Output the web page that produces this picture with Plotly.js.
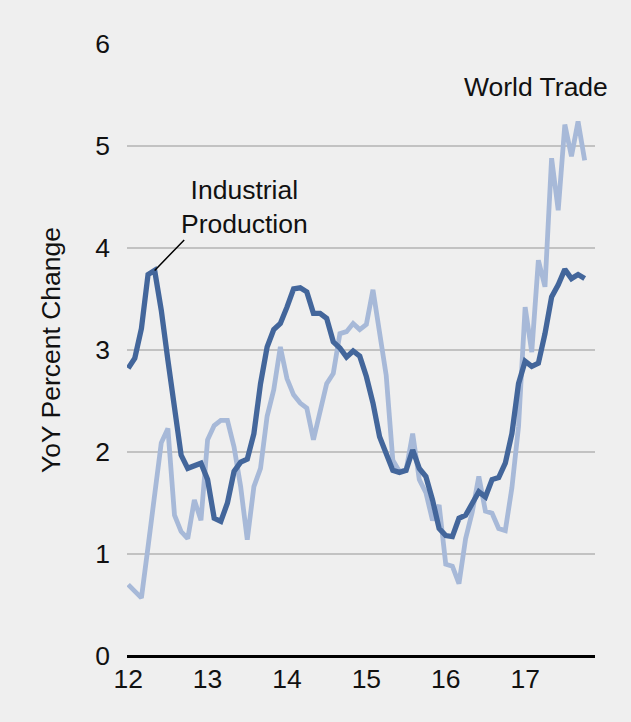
<!DOCTYPE html>
<html>
<head>
<meta charset="utf-8">
<script src="https://cdn.plot.ly/plotly-3.0.1.min.js"></script>
<style>
html,body{margin:0;padding:0;background:#efefef;}
#chart{width:631px;height:722px;}
</style>
</head>
<body>
<div id="chart"></div>
<script>
// Monthly, Jan 2012 .. Oct 2017 (x = 12 + month/12)
var startYear = 12;
var industrialProduction = [
  2.82, 2.92, 3.21, 3.74, 3.78, 3.39, 2.90, 2.41, 1.97, 1.84, 1.87, 1.89,
  1.73, 1.35, 1.32, 1.50, 1.81, 1.90, 1.93, 2.18, 2.67, 3.03, 3.20, 3.26,
  3.42, 3.60, 3.61, 3.57, 3.36, 3.36, 3.31, 3.08, 3.02, 2.93, 2.99, 2.94,
  2.74, 2.48, 2.15, 1.99, 1.82, 1.80, 1.82, 2.02, 1.84, 1.76, 1.53, 1.25,
  1.18, 1.17, 1.35, 1.38, 1.50, 1.61, 1.56, 1.73, 1.75, 1.89, 2.18, 2.67,
  2.89, 2.84, 2.87, 3.16, 3.52, 3.64, 3.79, 3.70, 3.74, 3.70
];
var worldTrade = [
  0.70, 0.63, 0.57, 1.07, 1.63, 2.09, 2.23, 1.38, 1.22, 1.15, 1.53, 1.33,
  2.12, 2.26, 2.31, 2.31, 2.05, 1.66, 1.14, 1.66, 1.84, 2.35, 2.61, 3.03,
  2.72, 2.56, 2.48, 2.43, 2.12, 2.41, 2.67, 2.77, 3.16, 3.18, 3.26, 3.20,
  3.25, 3.59, 3.20, 2.75, 1.92, 1.81, 1.82, 2.18, 1.73, 1.60, 1.33, 1.48,
  0.90, 0.88, 0.71, 1.15, 1.41, 1.76, 1.42, 1.40, 1.25, 1.23, 1.65, 2.25,
  3.42, 2.98, 3.88, 3.62, 4.88, 4.37, 5.21, 4.90, 5.24, 4.86
];
var xTickVals = [12, 13, 14, 15, 16, 17];
var xTickText = ["12", "13", "14", "15", "16", "17"];
var yTickVals = [0, 1, 2, 3, 4, 5, 6];

var xs = industrialProduction.map(function(_, i){ return startYear + i/12; });

var font = "Liberation Sans, Arial, sans-serif";
var fs = 26.5;

var traces = [
  {x: xs, y: worldTrade, type: "scatter", mode: "lines", name: "World Trade",
   line: {color: "#a7b9d8", width: 4.8}},
  {x: xs, y: industrialProduction, type: "scatter", mode: "lines", name: "Industrial Production",
   line: {color: "#43669b", width: 5.3}}
];

var layout = {
  width: 631, height: 722,
  paper_bgcolor: "#efefef", plot_bgcolor: "#efefef",
  showlegend: false,
  margin: {l: 127, r: 36, t: 44, b: 66},
  font: {family: font, size: fs, color: "#111"},
  xaxis: {
    range: [11.985, 17.88],
    tickvals: xTickVals, ticktext: xTickText,
    showgrid: false, zeroline: false,
    showline: false, ticks: "", ticklabelstandoff: 4,
    tickfont: {size: fs, color: "#111"}
  },
  yaxis: {
    range: [0, 6],
    tickvals: yTickVals,
    showgrid: true, gridcolor: "#c2c2c2", gridwidth: 2.5,
    zeroline: true, zerolinecolor: "#000", zerolinewidth: 3,
    showline: false, ticks: "", ticklabelstandoff: 16,
    tickfont: {size: fs, color: "#111"},
    title: {text: "YoY Percent Change", font: {size: fs, color: "#111"}, standoff: 26}
  },
  annotations: [
    {x: 17.135, y: 5.58, xref: "x", yref: "y", text: "World Trade", showarrow: false,
     font: {size: fs, color: "#111"}},
    {x: 13.47, y: 4.40, xref: "x", yref: "y",
     text: "Industrial<br>Production", showarrow: false, align: "center",
     font: {size: fs, color: "#111"}},
    {x: startYear + 4/12, y: 3.78, xref: "x", yref: "y", text: "",
     showarrow: true, arrowhead: 0, arrowwidth: 1.5, arrowcolor: "#000",
     ax: 31, ay: -32, standoff: 0}
  ]
};

Plotly.newPlot("chart", traces, layout, {staticPlot: true, displayModeBar: false});
</script>
</body>
</html>
